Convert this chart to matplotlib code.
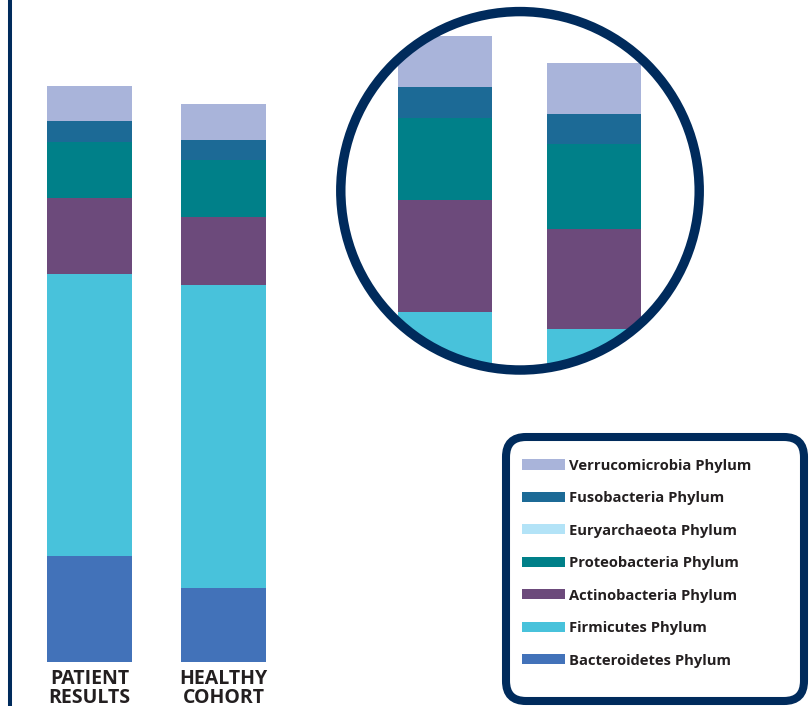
import matplotlib
matplotlib.use("Agg")
import matplotlib.pyplot as plt
from matplotlib.patches import Circle, FancyBboxPatch, Rectangle
from matplotlib.lines import Line2D

# stacked from bottom to top
PHYLA = [
    "Bacteroidetes Phylum",
    "Firmicutes Phylum",
    "Actinobacteria Phylum",
    "Proteobacteria Phylum",
    "Euryarchaeota Phylum",
    "Fusobacteria Phylum",
    "Verrucomicrobia Phylum",
]
COLORS = ["#4272B9", "#48C2DB", "#6C4A7B", "#008089", "#B3E3F7", "#1C6A96", "#A9B4DA"]
GROUPS = ["PATIENT\nRESULTS", "HEALTHY\nCOHORT"]
PATIENT = [18.4, 49.0, 13.2, 9.7, 0.0, 3.6, 6.1]
HEALTHY = [12.8, 52.6, 11.8, 10.0, 0.0, 3.5, 6.1]

NAVY = "#002B5C"
TEXT = "#231F20"
FONT = "Open Sans"
W, H = 809, 706
BAR_W = 0.63


def px_axes(fig, x0, y0, x1, y1):
    """Axes from pixel box (top-left origin)."""
    return fig.add_axes([x0 / W, 1 - y1 / H, (x1 - x0) / W, (y1 - y0) / H])


def draw_stack(ax, clip=None):
    bottoms = [0.0, 0.0]
    for i, (name, color) in enumerate(zip(PHYLA, COLORS)):
        vals = [PATIENT[i], HEALTHY[i]]
        bars = ax.bar([0, 1], vals, BAR_W, bottom=bottoms, color=color,
                      linewidth=0, label=name)
        if clip is not None:
            for b in bars:
                b.set_clip_path(clip)
        bottoms = [b + v for b, v in zip(bottoms, vals)]


fig = plt.figure(figsize=(W / 100, H / 100), dpi=100)

# main bars
ax = px_axes(fig, 9.5, 0, 300, H)
draw_stack(ax)
ax.set_xlim(-0.597, 1.571)
ax.set_ylim(-7.64, 114.93)
ax.axis("off")
for i, label in enumerate(GROUPS):
    ax.text(i, -1.2, label, ha="center", va="top", fontsize=14,
            fontweight="bold", family=FONT, color=TEXT, linespacing=0.95)

# left rule
fig.add_artist(Line2D([9.5 / W, 9.5 / W], [0, 1], color=NAVY, lw=2.9,
                      transform=fig.transFigure))

# zoomed circle
axz = px_axes(fig, 336, 6.8, 704, 374.8)
axz.set_xlim(-0.732, 1.738)
axz.set_ylim(60.0, 103.4)
axz.axis("off")
clip = Circle((0.5, 0.5), 0.487, transform=axz.transAxes, facecolor="none",
              edgecolor="none")
axz.add_patch(clip)
draw_stack(axz, clip=clip)
axz.add_patch(Circle((0.5, 0.5), 0.487, transform=axz.transAxes,
                     facecolor="none", edgecolor=NAVY, lw=6.8, clip_on=False))

# legend box
axl = px_axes(fig, 0, 0, W, H)
axl.set_xlim(0, W)
axl.set_ylim(H, 0)
axl.axis("off")
axl.add_patch(FancyBboxPatch((506, 437), 298, 264,
                             boxstyle="round,pad=0,rounding_size=20",
                             facecolor="white", edgecolor=NAVY, lw=5.8))
y0, dy = 464.3, 32.5
for k, idx in enumerate(reversed(range(len(PHYLA)))):
    yc = y0 + k * dy
    axl.add_patch(Rectangle((522, yc - 5.2), 43, 10.4, color=COLORS[idx], lw=0))
    axl.text(569, yc + 5.5, PHYLA[idx], ha="left", va="baseline", fontsize=10.6,
             fontweight="bold", family=FONT, color=TEXT)

fig.savefig("out.png", dpi=100)
